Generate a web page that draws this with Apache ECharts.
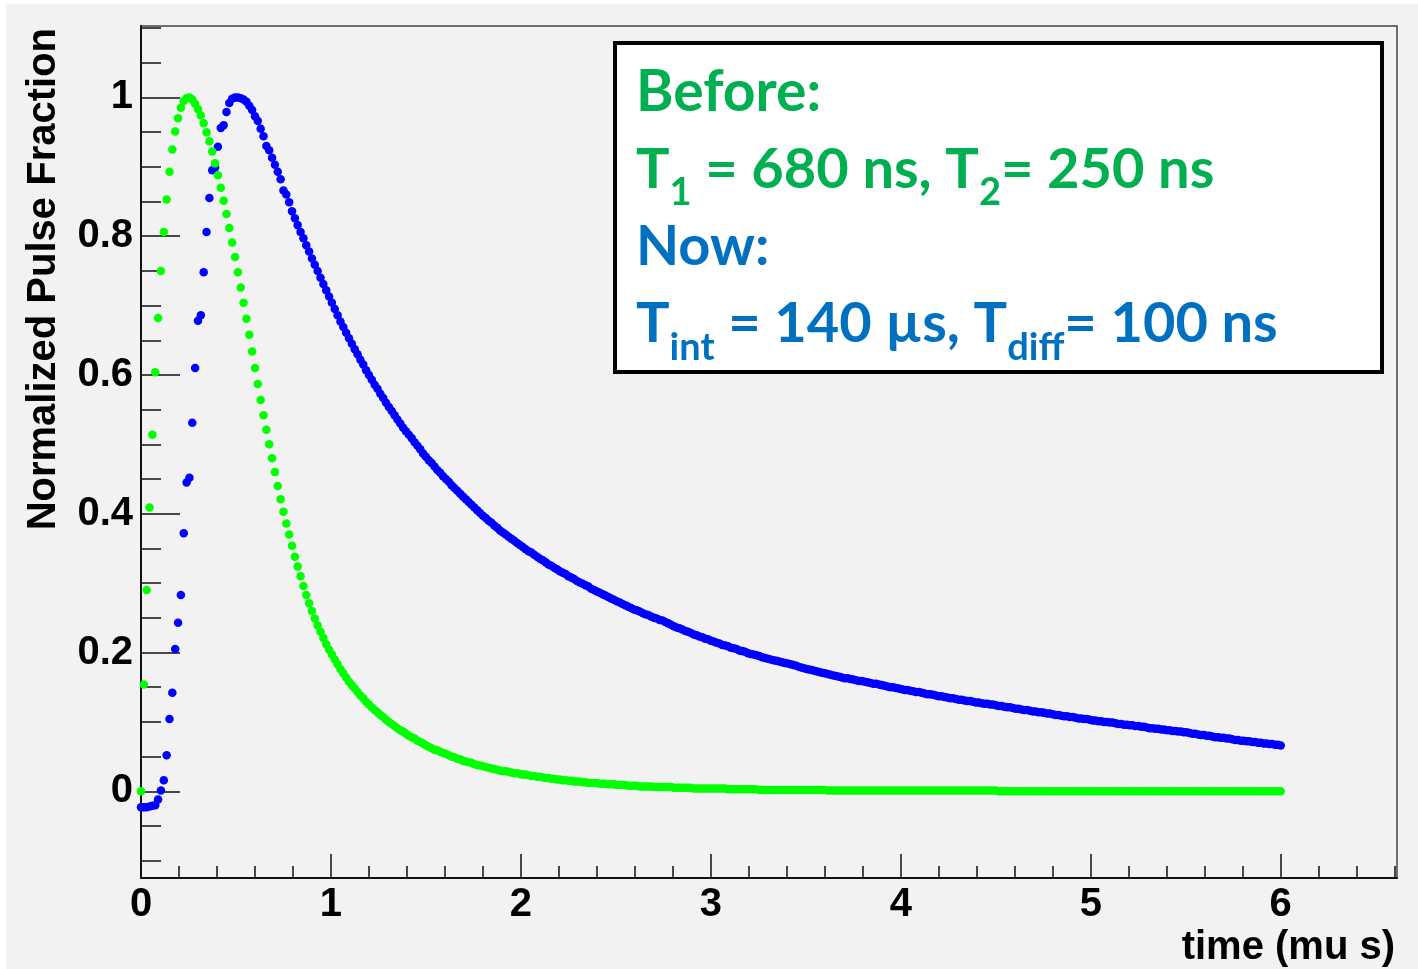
<!DOCTYPE html>
<html>
<head>
<meta charset="utf-8">
<script src="https://cdn.jsdelivr.net/npm/echarts@6/dist/echarts.min.js"></script>
<style>
  html, body { margin: 0; padding: 0; background: #ffffff; }
  #wrap { position: relative; width: 1418px; height: 969px; background: #ffffff; overflow: hidden; }
  #pane { position: absolute; left: 6px; top: 4px; right: 0; bottom: 0; background: #f2f2f2; }
  #chart { position: absolute; left: 0; top: 0; width: 1418px; height: 969px; }
</style>
</head>
<body>
<div id="wrap">
  <div id="pane"></div>
  <div id="chart"></div>
</div>
<script>
// Sample times (microseconds), one sample every 15 ns
const timeUs = [
  0, 0.015, 0.03, 0.045, 0.06, 0.075, 0.09, 0.105, 0.12, 0.135, 0.15, 0.165, 0.18, 0.195, 0.21, 0.225, 0.24, 0.255, 0.27, 0.285,
  0.3, 0.315, 0.33, 0.345, 0.36, 0.375, 0.39, 0.405, 0.42, 0.435, 0.45, 0.465, 0.48, 0.495, 0.51, 0.525, 0.54, 0.555, 0.57, 0.585,
  0.6, 0.615, 0.63, 0.645, 0.66, 0.675, 0.69, 0.705, 0.72, 0.735, 0.75, 0.765, 0.78, 0.795, 0.81, 0.825, 0.84, 0.855, 0.87, 0.885,
  0.9, 0.915, 0.93, 0.945, 0.96, 0.975, 0.99, 1.005, 1.02, 1.035, 1.05, 1.065, 1.08, 1.095, 1.11, 1.125, 1.14, 1.155, 1.17, 1.185,
  1.2, 1.215, 1.23, 1.245, 1.26, 1.275, 1.29, 1.305, 1.32, 1.335, 1.35, 1.365, 1.38, 1.395, 1.41, 1.425, 1.44, 1.455, 1.47, 1.485,
  1.5, 1.515, 1.53, 1.545, 1.56, 1.575, 1.59, 1.605, 1.62, 1.635, 1.65, 1.665, 1.68, 1.695, 1.71, 1.725, 1.74, 1.755, 1.77, 1.785,
  1.8, 1.815, 1.83, 1.845, 1.86, 1.875, 1.89, 1.905, 1.92, 1.935, 1.95, 1.965, 1.98, 1.995, 2.01, 2.025, 2.04, 2.055, 2.07, 2.085,
  2.1, 2.115, 2.13, 2.145, 2.16, 2.175, 2.19, 2.205, 2.22, 2.235, 2.25, 2.265, 2.28, 2.295, 2.31, 2.325, 2.34, 2.355, 2.37, 2.385,
  2.4, 2.415, 2.43, 2.445, 2.46, 2.475, 2.49, 2.505, 2.52, 2.535, 2.55, 2.565, 2.58, 2.595, 2.61, 2.625, 2.64, 2.655, 2.67, 2.685,
  2.7, 2.715, 2.73, 2.745, 2.76, 2.775, 2.79, 2.805, 2.82, 2.835, 2.85, 2.865, 2.88, 2.895, 2.91, 2.925, 2.94, 2.955, 2.97, 2.985,
  3, 3.015, 3.03, 3.045, 3.06, 3.075, 3.09, 3.105, 3.12, 3.135, 3.15, 3.165, 3.18, 3.195, 3.21, 3.225, 3.24, 3.255, 3.27, 3.285,
  3.3, 3.315, 3.33, 3.345, 3.36, 3.375, 3.39, 3.405, 3.42, 3.435, 3.45, 3.465, 3.48, 3.495, 3.51, 3.525, 3.54, 3.555, 3.57, 3.585,
  3.6, 3.615, 3.63, 3.645, 3.66, 3.675, 3.69, 3.705, 3.72, 3.735, 3.75, 3.765, 3.78, 3.795, 3.81, 3.825, 3.84, 3.855, 3.87, 3.885,
  3.9, 3.915, 3.93, 3.945, 3.96, 3.975, 3.99, 4.005, 4.02, 4.035, 4.05, 4.065, 4.08, 4.095, 4.11, 4.125, 4.14, 4.155, 4.17, 4.185,
  4.2, 4.215, 4.23, 4.245, 4.26, 4.275, 4.29, 4.305, 4.32, 4.335, 4.35, 4.365, 4.38, 4.395, 4.41, 4.425, 4.44, 4.455, 4.47, 4.485,
  4.5, 4.515, 4.53, 4.545, 4.56, 4.575, 4.59, 4.605, 4.62, 4.635, 4.65, 4.665, 4.68, 4.695, 4.71, 4.725, 4.74, 4.755, 4.77, 4.785,
  4.8, 4.815, 4.83, 4.845, 4.86, 4.875, 4.89, 4.905, 4.92, 4.935, 4.95, 4.965, 4.98, 4.995, 5.01, 5.025, 5.04, 5.055, 5.07, 5.085,
  5.1, 5.115, 5.13, 5.145, 5.16, 5.175, 5.19, 5.205, 5.22, 5.235, 5.25, 5.265, 5.28, 5.295, 5.31, 5.325, 5.34, 5.355, 5.37, 5.385,
  5.4, 5.415, 5.43, 5.445, 5.46, 5.475, 5.49, 5.505, 5.52, 5.535, 5.55, 5.565, 5.58, 5.595, 5.61, 5.625, 5.64, 5.655, 5.67, 5.685,
  5.7, 5.715, 5.73, 5.745, 5.76, 5.775, 5.79, 5.805, 5.82, 5.835, 5.85, 5.865, 5.88, 5.895, 5.91, 5.925, 5.94, 5.955, 5.97, 5.985,
  6
];

// Normalized pulse, old shaping (T1 = 680 ns, T2 = 250 ns)
const pulseBefore = [
  0, 0.154, 0.290, 0.409, 0.514, 0.604, 0.682, 0.750, 0.806, 0.853, 0.893, 0.925, 0.951, 0.970, 0.985, 0.995, 0.999, 1.000, 0.997, 0.991,
  0.983, 0.974, 0.963, 0.950, 0.937, 0.922, 0.905, 0.888, 0.870, 0.851, 0.832, 0.812, 0.791, 0.770, 0.748, 0.726, 0.704, 0.681, 0.658, 0.634,
  0.610, 0.587, 0.564, 0.542, 0.521, 0.500, 0.480, 0.460, 0.440, 0.421, 0.403, 0.386, 0.370, 0.354, 0.338, 0.324, 0.310, 0.296, 0.283, 0.271,
  0.260, 0.249, 0.239, 0.230, 0.221, 0.212, 0.204, 0.197, 0.190, 0.183, 0.176, 0.170, 0.164, 0.158, 0.153, 0.148, 0.143, 0.138, 0.134, 0.129,
  0.125, 0.121, 0.117, 0.114, 0.110, 0.107, 0.103, 0.100, 0.097, 0.094, 0.091, 0.088, 0.086, 0.083, 0.080, 0.078, 0.076, 0.073, 0.071, 0.069,
  0.066, 0.064, 0.062, 0.060, 0.059, 0.057, 0.055, 0.054, 0.052, 0.050, 0.049, 0.047, 0.046, 0.044, 0.043, 0.042, 0.041, 0.039, 0.038, 0.037,
  0.036, 0.035, 0.034, 0.033, 0.032, 0.031, 0.030, 0.029, 0.029, 0.028, 0.027, 0.026, 0.026, 0.025, 0.024, 0.024, 0.023, 0.022, 0.022, 0.021,
  0.021, 0.020, 0.019, 0.019, 0.018, 0.018, 0.017, 0.017, 0.016, 0.016, 0.015, 0.015, 0.014, 0.014, 0.014, 0.013, 0.013, 0.012, 0.012, 0.012,
  0.012, 0.011, 0.011, 0.011, 0.010, 0.010, 0.010, 0.009, 0.009, 0.009, 0.009, 0.008, 0.008, 0.008, 0.008, 0.007, 0.007, 0.007, 0.007, 0.007,
  0.006, 0.006, 0.006, 0.006, 0.006, 0.006, 0.006, 0.005, 0.005, 0.005, 0.005, 0.005, 0.005, 0.005, 0.004, 0.004, 0.004, 0.004, 0.004, 0.004,
  0.004, 0.004, 0.004, 0.004, 0.004, 0.004, 0.003, 0.003, 0.003, 0.003, 0.003, 0.003, 0.003, 0.003, 0.003, 0.003, 0.003, 0.002, 0.002, 0.002,
  0.002, 0.002, 0.002, 0.002, 0.002, 0.002, 0.002, 0.002, 0.002, 0.002, 0.002, 0.002, 0.002, 0.002, 0.002, 0.002, 0.002, 0.002, 0.002, 0.002,
  0.002, 0.001, 0.001, 0.001, 0.001, 0.001, 0.001, 0.001, 0.001, 0.001, 0.001, 0.001, 0.001, 0.001, 0.001, 0.001, 0.001, 0.001, 0.001, 0.001,
  0.001, 0.001, 0.001, 0.001, 0.001, 0.001, 0.001, 0.001, 0.001, 0.001, 0.001, 0.001, 0.001, 0.001, 0.001, 0.001, 0.001, 0.001, 0.001, 0.001,
  0.001, 0.001, 0.001, 0.001, 0.001, 0.001, 0.001, 0.001, 0.001, 0.001, 0.001, 0.001, 0.001, 0.001, 0.001, 0.001, 0.001, 0.001, 0.001, 0.001,
  0.001, 0, 0, 0, 0, 0, 0, 0, 0, 0, 0, 0, 0, 0, 0, 0, 0, 0, 0, 0,
  0, 0, 0, 0, 0, 0, 0, 0, 0, 0, 0, 0, 0, 0, 0, 0, 0, 0, 0, 0,
  0, 0, 0, 0, 0, 0, 0, 0, 0, 0, 0, 0, 0, 0, 0, 0, 0, 0, 0, 0,
  0, 0, 0, 0, 0, 0, 0, 0, 0, 0, 0, 0, 0, 0, 0, 0, 0, 0, 0, 0,
  0, 0, 0, 0, 0, 0, 0, 0, 0, 0, 0, 0, 0, 0, 0, 0, 0, 0, 0, 0,
  0
];

// Normalized pulse, new shaping (Tint = 140 us, Tdiff = 100 ns)
const pulseNow = [
  -0.023, -0.023, -0.023, -0.022, -0.021, -0.020, -0.012, 0.001, 0.016, 0.052, 0.104, 0.142, 0.205, 0.243, 0.283, 0.372, 0.445, 0.452, 0.531, 0.610,
  0.678, 0.686, 0.748, 0.806, 0.855, 0.895, 0.899, 0.929, 0.956, 0.960, 0.979, 0.992, 0.998, 1.000, 1.000, 0.999, 0.997, 0.994, 0.988, 0.982,
  0.973, 0.966, 0.955, 0.944, 0.930, 0.924, 0.913, 0.903, 0.893, 0.882, 0.866, 0.860, 0.849, 0.836, 0.826, 0.816, 0.806, 0.797, 0.787, 0.778,
  0.768, 0.759, 0.750, 0.740, 0.731, 0.722, 0.713, 0.704, 0.695, 0.686, 0.677, 0.669, 0.661, 0.653, 0.645, 0.637, 0.630, 0.622, 0.615, 0.607,
  0.600, 0.593, 0.586, 0.580, 0.573, 0.567, 0.560, 0.554, 0.548, 0.542, 0.536, 0.530, 0.524, 0.519, 0.514, 0.509, 0.503, 0.498, 0.493, 0.487,
  0.482, 0.477, 0.473, 0.468, 0.463, 0.459, 0.454, 0.450, 0.446, 0.441, 0.437, 0.433, 0.429, 0.425, 0.421, 0.417, 0.413, 0.409, 0.405, 0.401,
  0.397, 0.394, 0.390, 0.387, 0.383, 0.380, 0.376, 0.373, 0.370, 0.367, 0.364, 0.361, 0.358, 0.355, 0.352, 0.349, 0.346, 0.344, 0.341, 0.338,
  0.335, 0.333, 0.330, 0.327, 0.325, 0.322, 0.320, 0.317, 0.315, 0.313, 0.310, 0.308, 0.306, 0.303, 0.301, 0.299, 0.297, 0.295, 0.292, 0.290,
  0.288, 0.286, 0.284, 0.282, 0.280, 0.278, 0.276, 0.274, 0.272, 0.270, 0.268, 0.266, 0.264, 0.262, 0.261, 0.259, 0.257, 0.255, 0.254, 0.252,
  0.250, 0.249, 0.247, 0.246, 0.244, 0.242, 0.240, 0.238, 0.236, 0.235, 0.233, 0.231, 0.230, 0.228, 0.226, 0.225, 0.223, 0.222, 0.220, 0.219,
  0.217, 0.216, 0.214, 0.213, 0.211, 0.210, 0.209, 0.207, 0.206, 0.205, 0.203, 0.202, 0.201, 0.199, 0.198, 0.197, 0.196, 0.195, 0.193, 0.192,
  0.191, 0.190, 0.189, 0.188, 0.187, 0.186, 0.185, 0.184, 0.183, 0.182, 0.181, 0.179, 0.178, 0.177, 0.176, 0.175, 0.174, 0.173, 0.172, 0.171,
  0.170, 0.169, 0.168, 0.167, 0.166, 0.165, 0.164, 0.163, 0.163, 0.162, 0.161, 0.160, 0.159, 0.159, 0.158, 0.157, 0.156, 0.155, 0.155, 0.154,
  0.153, 0.152, 0.151, 0.150, 0.150, 0.149, 0.148, 0.147, 0.146, 0.146, 0.145, 0.144, 0.143, 0.143, 0.142, 0.141, 0.140, 0.140, 0.139, 0.138,
  0.137, 0.137, 0.136, 0.135, 0.134, 0.134, 0.133, 0.132, 0.132, 0.131, 0.130, 0.130, 0.129, 0.128, 0.128, 0.127, 0.126, 0.126, 0.125, 0.125,
  0.124, 0.123, 0.123, 0.122, 0.121, 0.121, 0.120, 0.119, 0.119, 0.118, 0.117, 0.117, 0.116, 0.115, 0.115, 0.114, 0.114, 0.113, 0.112, 0.112,
  0.111, 0.110, 0.110, 0.109, 0.108, 0.108, 0.107, 0.107, 0.106, 0.105, 0.105, 0.104, 0.104, 0.103, 0.102, 0.102, 0.101, 0.101, 0.100, 0.100,
  0.099, 0.099, 0.098, 0.097, 0.097, 0.096, 0.096, 0.095, 0.095, 0.094, 0.094, 0.093, 0.093, 0.092, 0.091, 0.091, 0.090, 0.090, 0.089, 0.089,
  0.088, 0.088, 0.087, 0.087, 0.086, 0.086, 0.085, 0.085, 0.084, 0.083, 0.083, 0.082, 0.081, 0.081, 0.080, 0.080, 0.079, 0.078, 0.078, 0.077,
  0.077, 0.076, 0.076, 0.075, 0.074, 0.074, 0.073, 0.073, 0.072, 0.072, 0.071, 0.071, 0.070, 0.070, 0.069, 0.069, 0.068, 0.068, 0.067, 0.067,
  0.066
];

// Axis ticks
const xMajorTicks = [0, 1, 2, 3, 4, 5, 6];
const xMinorTicks = [0.2, 0.4, 0.6, 0.8, 1.2, 1.4, 1.6, 1.8, 2.2, 2.4, 2.6, 2.8, 3.2, 3.4, 3.6, 3.8,
  4.2, 4.4, 4.6, 4.8, 5.2, 5.4, 5.6, 5.8, 6.2, 6.4, 6.6];
const yMajorTicks = [0, 0.2, 0.4, 0.6, 0.8, 1];
const yMinorTicks = [-0.1, -0.05, 0.05, 0.1, 0.15, 0.25, 0.3, 0.35, 0.45, 0.5, 0.55, 0.65, 0.7, 0.75,
  0.85, 0.9, 0.95, 1.05, 1.1];

const xTitle = 'time (mu s)';
const yTitle = 'Normalized Pulse Fraction';

const X_MIN = 0, X_MAX = 6.612;
const Y_MIN = -0.125, Y_MAX = 1.103;

const AXIS_COLOR = '#111111';
const tickFont = {
  fontFamily: '"Liberation Sans", Arial, sans-serif',
  fontWeight: 'bold',
  fontSize: 40,
  color: '#000000'
};
const GREEN_TEXT = '#00b050';
const BLUE_TEXT = '#0070c0';
const BOX_FONT = 'Lato, "Open Sans", sans-serif';

function toPoints(values) {
  return values.map((v, i) => [timeUs[i], v]);
}

function valueAxis(extra) {
  return Object.assign({
    type: 'value',
    scale: false,
    splitLine: { show: false },
    axisPointer: { show: false }
  }, extra);
}

const chart = echarts.init(document.getElementById('chart'), null, { renderer: 'canvas' });

const option = {
  backgroundColor: 'transparent',
  animation: false,
  grid: {
    left: 141, top: 26, width: 1256, height: 852,
    show: true, borderColor: '#444444', borderWidth: 1.5, backgroundColor: 'transparent'
  },
  xAxis: [
    valueAxis({
      min: X_MIN, max: X_MAX, position: 'bottom',
      axisLine: { show: true, onZero: false, lineStyle: { color: AXIS_COLOR, width: 2 } },
      axisTick: { show: true, inside: true, length: 24, customValues: xMajorTicks,
        lineStyle: { color: AXIS_COLOR, width: 1.5 } },
      axisLabel: Object.assign({ show: true, customValues: xMajorTicks, margin: 7 }, tickFont)
    }),
    valueAxis({
      min: X_MIN, max: X_MAX, position: 'bottom',
      axisLine: { show: false, onZero: false },
      axisTick: { show: true, inside: true, length: 12, customValues: xMinorTicks,
        lineStyle: { color: AXIS_COLOR, width: 1.5 } },
      axisLabel: { show: false }
    })
  ],
  yAxis: [
    valueAxis({
      min: Y_MIN, max: Y_MAX, position: 'left',
      axisLine: { show: true, onZero: false, lineStyle: { color: AXIS_COLOR, width: 2 } },
      axisTick: { show: true, inside: true, length: 39, customValues: yMajorTicks,
        lineStyle: { color: AXIS_COLOR, width: 1.5 } },
      axisLabel: Object.assign({ show: true, customValues: yMajorTicks, margin: 8 }, tickFont)
    }),
    valueAxis({
      min: Y_MIN, max: Y_MAX, position: 'left',
      axisLine: { show: false, onZero: false },
      axisTick: { show: true, inside: true, length: 20, customValues: yMinorTicks,
        lineStyle: { color: AXIS_COLOR, width: 1.5 } },
      axisLabel: { show: false }
    })
  ],
  series: [
    {
      name: 'Now', type: 'scatter', xAxisIndex: 0, yAxisIndex: 0,
      symbol: 'circle', symbolSize: 8.5,
      itemStyle: { color: '#0000ff', opacity: 1 },
      data: toPoints(pulseNow), z: 3
    },
    {
      name: 'Before', type: 'scatter', xAxisIndex: 0, yAxisIndex: 0,
      symbol: 'circle', symbolSize: 8.5,
      itemStyle: { color: '#00ff00', opacity: 1 },
      data: toPoints(pulseBefore), z: 4
    }
  ],
  graphic: [
    {
      type: 'text', x: 44, y: 28, rotation: Math.PI / 2,
      style: { text: yTitle, font: 'bold 40px "Liberation Sans", Arial, sans-serif',
        fill: '#000', align: 'right', verticalAlign: 'middle' }
    },
    {
      type: 'text', x: 1395, y: 948,
      style: { text: xTitle, font: 'bold 40px "Liberation Sans", Arial, sans-serif',
        fill: '#000', align: 'right', verticalAlign: 'middle' }
    },
    {
      type: 'rect', z: 20,
      shape: { x: 615, y: 43, width: 767, height: 329 },
      style: { fill: '#ffffff', stroke: '#000000', lineWidth: 4 }
    },
    {
      type: 'text', z: 21, x: 636, y: 93,
      style: { text: 'Before:', font: 'bold 57px ' + BOX_FONT, fill: GREEN_TEXT,
        align: 'left', verticalAlign: 'middle' }
    },
    {
      type: 'text', z: 21, x: 636, y: 142,
      style: {
        text: '{m|T}{s|1}{m| = 680 ns, T}{s|2}{m|= 250 ns}',
        align: 'left', verticalAlign: 'top',
        rich: {
          m: { font: 'bold 56px ' + BOX_FONT, fill: GREEN_TEXT, lineHeight: 56, verticalAlign: 'top' },
          s: { font: 'bold 38px ' + BOX_FONT, fill: GREEN_TEXT, lineHeight: 102 }
        }
      }
    },
    {
      type: 'text', z: 21, x: 636, y: 247,
      style: { text: 'Now:', font: 'bold 56px ' + BOX_FONT, fill: BLUE_TEXT,
        align: 'left', verticalAlign: 'middle' }
    },
    {
      type: 'text', z: 21, x: 636, y: 296,
      style: {
        text: '{m|T}{s|int}{m| = 140 µs, T}{s|diff}{m|= 100 ns}',
        align: 'left', verticalAlign: 'top',
        rich: {
          m: { font: 'bold 56px ' + BOX_FONT, fill: BLUE_TEXT, lineHeight: 56, verticalAlign: 'top' },
          s: { font: 'bold 38px ' + BOX_FONT, fill: BLUE_TEXT, lineHeight: 104 }
        }
      }
    }
  ]
};

chart.setOption(option);
</script>
</body>
</html>
